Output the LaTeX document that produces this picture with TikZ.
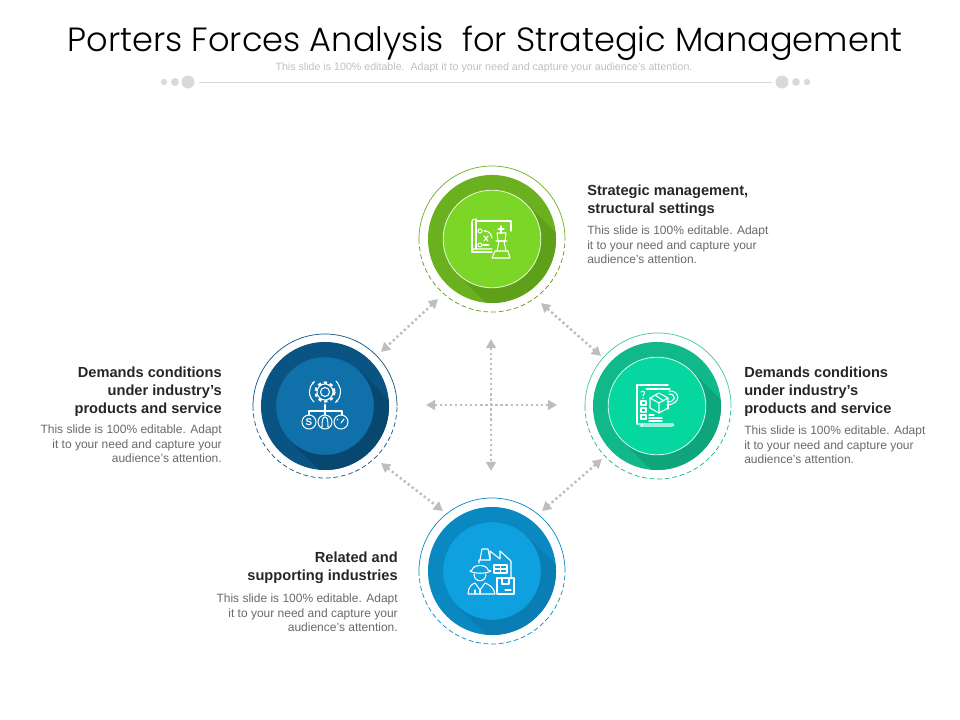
\documentclass[tikz,border=0pt]{standalone}
\usepackage{fontspec}
\setmainfont{Liberation Sans}
\newfontfamily\titlefont{Poppins Light}
\usetikzlibrary{arrows.meta}
\tikzset{
  disc/.style={circle,minimum size=3.2cm,inner sep=0pt},
  core/.style={circle,minimum size=2.44cm,inner sep=0pt},
  ringpart/.style={line width=0.5pt},
  ringdash/.style={line width=0.5pt,dash pattern=on 3.4pt off 2pt},
  link/.style={{Triangle[length=6.5pt,width=7pt]}-{Triangle[length=6.5pt,width=7pt]},draw=linkgrey,line width=1.7pt,dash pattern=on 1.7pt off 1.9pt},
  headtext/.style={inner sep=0pt,font=\fontsize{10.4}{12.8}\selectfont\bfseries,text=headgrey},
  bodytext/.style={inner sep=0pt,font=\fontsize{8.53}{10}\selectfont,text=bodygrey},
  icon/.style={draw=white,line width=0.75pt,line cap=round,line join=round},
  dot/.style={circle,fill=dotgrey,inner sep=0pt}
}
\begin{document}
\begin{tikzpicture}[x=0.025cm,y=-0.025cm]
  \definecolor{linkgrey}{RGB}{190,190,192}
  \definecolor{dotgrey}{RGB}{217,217,217}
  \definecolor{headgrey}{RGB}{38,38,38}
  \definecolor{bodygrey}{RGB}{105,105,105}
  \definecolor{topdark}{RGB}{107,176,30}
  \definecolor{topshade}{RGB}{94,160,26}
  \definecolor{toplight}{RGB}{124,214,40}
  \definecolor{leftdark}{RGB}{9,84,130}
  \definecolor{leftshade}{RGB}{8,72,112}
  \definecolor{leftlight}{RGB}{15,112,170}
  \definecolor{rightdark}{RGB}{16,184,138}
  \definecolor{rightshade}{RGB}{14,165,124}
  \definecolor{rightlight}{RGB}{6,214,160}
  \definecolor{botdark}{RGB}{9,136,194}
  \definecolor{botshade}{RGB}{9,125,180}
  \definecolor{botlight}{RGB}{15,160,224}
  \useasboundingbox (0,0) rectangle (960,720);
  % Title block
  \node[inner sep=0pt,font=\titlefont\fontsize{23.9}{28}\selectfont,text=black] (title) at (485,43) {Porters Forces Analysis\ \ for Strategic Management};
  \node[inner sep=0pt,font=\fontsize{7.58}{9}\selectfont,text=black!25] (subtitle) at (484,68) {This slide is 100\% editable.\ \ Adapt it to your need and capture your audience’s attention.};
  \node[dot,minimum size=4.5pt] (dotla) at (164,82) {};
  \node[dot,minimum size=5.6pt] (dotlb) at (175,82) {};
  \node[dot,minimum size=9.2pt] (dotlc) at (188,82) {};
  \node[dot,minimum size=9.2pt] (dotra) at (782,82) {};
  \node[dot,minimum size=5.6pt] (dotrb) at (796,82) {};
  \node[dot,minimum size=4.5pt] (dotrc) at (807,82) {};
  \draw[dotgrey,line width=0.6pt] (199,82) -- (772,82);
  % Top circle
  \node[disc,fill=topdark] (topdisc) at (492,239) {};
  \begin{scope}
    \clip (492,239) circle (64);
    \fill[topshade] (527,204) -- (627,304) -- (557,374) -- (457,274) -- cycle;
  \end{scope}
  \node[core,fill=toplight,draw=white!80!toplight,line width=0.6pt] (topcore) at (492,239) {};
  \draw[ringpart,draw=topdark] (419,239) arc (180:360:73);
  \draw[ringdash,draw=topdark!85!black] (419,239) arc (180:0:73);
  % Left circle
  \node[disc,fill=leftdark] (leftdisc) at (325,406) {};
  \begin{scope}
    \clip (325,406) circle (64);
    \fill[leftshade] (360,371) -- (460,471) -- (390,541) -- (290,441) -- cycle;
  \end{scope}
  \node[core,fill=leftlight] (leftcore) at (325,406) {};
  \draw[ringpart,draw=leftdark] (253,406) arc (180:360:72);
  \draw[ringdash,draw=leftdark] (253,406) arc (180:0:72);
  % Right circle
  \node[disc,fill=rightdark] (rightdisc) at (657,406) {};
  \begin{scope}
    \clip (657,406) circle (64);
    \fill[rightshade] (692,371) -- (792,471) -- (722,541) -- (622,441) -- cycle;
  \end{scope}
  \node[core,fill=rightlight,draw=white!80!rightlight,line width=0.6pt] (rightcore) at (657,406) {};
  \draw[ringpart,draw=rightdark!80!white] (585,406) arc (180:360:73);
  \draw[ringdash,draw=rightdark] (585,406) arc (180:0:73);
  % Bottom circle
  \node[disc,fill=botdark] (botdisc) at (492,571) {};
  \begin{scope}
    \clip (492,571) circle (64);
    \fill[botshade] (527,536) -- (627,636) -- (557,706) -- (457,606) -- cycle;
  \end{scope}
  \node[core,fill=botlight] (botcore) at (492,571) {};
  \draw[ringpart,draw=botdark] (419,571) arc (180:360:73);
  \draw[ringdash,draw=botdark] (419,571) arc (180:0:73);
  % Arrow ends
  \coordinate (tl) at (438,299);
  \coordinate (lt) at (381,352);
  \coordinate (tr) at (541,303);
  \coordinate (rt) at (601,356);
  \coordinate (lb) at (381,463);
  \coordinate (bl) at (443,511);
  \coordinate (rb) at (602,459);
  \coordinate (br) at (542,511);
  \coordinate (crossn) at (491,339);
  \coordinate (crosss) at (491,471);
  \coordinate (crossw) at (426,405);
  \coordinate (crosse) at (557,405);
  \draw[link] (tl) -- (lt);
  \draw[link] (tr) -- (rt);
  \draw[link] (lb) -- (bl);
  \draw[link] (rb) -- (br);
  \draw[link] (crossn) -- (crosss);
  \draw[link] (crossw) -- (crosse);
  % Map and king icon
  \draw[icon] (476,221) -- (511,221) -- (511,231);
  \draw[icon] (476,219) -- (476,249) (472,222) -- (472,252) -- (492,252);
  \draw[icon] (472,222) .. controls (472,219) and (475,218) .. (476,221);
  \draw[icon] (472,252) .. controls (472,249) and (475,248) .. (476,249) -- (492,249);
  \draw[icon] (480,231) circle (2) (480,245) circle (2);
  \draw[icon,-{Stealth[length=2.5pt]}] (483,245) -- (490,245);
  \draw[icon,-{Stealth[length=2.5pt]}] (492,238) .. controls (491,233) and (488,231) .. (483,231);
  \draw[icon] (484,236) -- (488,241) (488,236) -- (484,241);
  \draw[icon] (501,226) -- (501,233) (498,229) -- (504,229);
  \draw[icon] (497,233) -- (506,233) -- (505,241) -- (498,241) -- cycle;
  \draw[icon] (496,241) -- (507,241) (499,241) -- (497,251) (504,241) -- (506,251);
  \draw[icon] (495,251) -- (508,251) -- (510,258) -- (492,258) -- cycle;
  % Gear and gauges icon
  \draw[icon] (325,392) circle (4.5) (325,392) circle (8);
  \draw[icon,line width=1.6pt,line cap=butt,dash pattern=on 2.3pt off 2.1pt] (325,392) circle (9.5);
  \draw[icon,-{Stealth[length=2.5pt]}] (314,402) .. controls (308,396) and (308,388) .. (315,381);
  \draw[icon,-{Stealth[length=2.5pt]}] (336,381) .. controls (342,388) and (342,396) .. (335,403);
  \draw[icon,-{Stealth[length=2.5pt]}] (325,411) -- (325,403);
  \draw[icon] (309,415) -- (309,411) -- (342,411) -- (342,415);
  \draw[icon] (325,411) -- (325,415);
  \draw[icon] (309,422) circle (7) (325,422) circle (7) (341,422) circle (7);
  \node[inner sep=0pt,text=white,font=\fontsize{7}{7}\selectfont\bfseries] (gaugeS) at (309,422) {S};
  \draw[icon] (322,427) .. controls (322,419) and (323,417) .. (325,417) .. controls (327,417) and (328,419) .. (328,427);
  \draw[icon] (341,423) -- (344,419) (337,420) -- (338,419);
  % Page and parcel icon
  \draw[icon] (637,424) -- (637,385) -- (668,385) (668,405) -- (668,409);
  \draw[icon] (637,424) -- (642,424) (642,424) .. controls (642,426) and (641,426) .. (640,426) -- (672,426) .. controls (674,426) and (674,424) .. (673,424) -- (642,424);
  \draw[icon,-{Stealth[length=2.5pt]}] (670,389) -- (645,389);
  \draw[icon] (669,391) .. controls (680,390) and (682,404) .. (667,405) (669,394) .. controls (676,394) and (677,402) .. (667,402);
  \draw[icon] (650,398) -- (659,393) -- (668,398) -- (668,408) -- (659,413) -- (650,408) -- cycle;
  \draw[icon] (650,398) -- (659,403) -- (668,398) (659,403) -- (659,413) (655,395) -- (664,401);
  \draw[icon] (641,392) .. controls (642,390) and (646,391) .. (644,394) -- (643,396) (643,398) -- (643,398.5);
  \draw[icon] (641,401) rectangle (646,405) (641,408) rectangle (646,412) (641,415) rectangle (646,419);
  \draw[icon] (649,415) -- (654,415) (649,418) -- (662,418) (649,421) -- (662,421);
  % Factory and worker icon
  \draw[icon] (480,560) -- (482,549) -- (488,549) -- (490,560);
  \draw[icon] (479,563) -- (479,560) -- (490,560) -- (490,551) -- (500,559) -- (500,551) -- (511,561) -- (511,578);
  \draw[icon] (494,565) rectangle (507,573) (500.5,565) -- (500.5,573) (494,569) -- (507,569);
  \draw[icon] (470,571) -- (472,570) .. controls (473,564) and (487,564) .. (488,570) -- (491,571) .. controls (486,574) and (474,574) .. (470,571) -- cycle;
  \draw[icon] (474,574) .. controls (474,583) and (486,583) .. (486,574);
  \draw[icon] (468,594) .. controls (468,587) and (472,584) .. (475,583) -- (480,590) -- (485,583) .. controls (488,584) and (494,587) .. (495,594) -- cycle;
  \draw[icon] (480,590) -- (480,594) (475,590) -- (475,594);
  \draw[icon] (497,578) rectangle (514,594) (502,578) -- (502,584) -- (509,584) -- (509,578) (505,590) -- (511,590);
  % Top text
  \node[headtext,anchor=north west,align=left] (tophead) at (587,184.5) {Strategic management,\\structural settings};
  \node[bodytext,anchor=north west,align=left] (topbody) at (587,226) {This slide is 100\% editable. Adapt\\it to your need and capture your\\audience’s attention.};
  % Left text
  \node[headtext,anchor=north east,align=right] (lefthead) at (222,366.5) {Demands conditions\\under industry’s\\products and service};
  \node[bodytext,anchor=north east,align=right] (leftbody) at (222,425) {This slide is 100\% editable. Adapt\\it to your need and capture your\\audience’s attention.};
  % Right text
  \node[headtext,anchor=north west,align=left] (righthead) at (744,366.5) {Demands conditions\\under industry’s\\products and service};
  \node[bodytext,anchor=north west,align=left] (rightbody) at (744,426) {This slide is 100\% editable. Adapt\\it to your need and capture your\\audience’s attention.};
  % Bottom text
  \node[headtext,anchor=north east,align=right] (bothead) at (398,552) {Related and\\supporting industries};
  \node[bodytext,anchor=north east,align=right] (botbody) at (398,594) {This slide is 100\% editable. Adapt\\it to your need and capture your\\audience’s attention.};
\end{tikzpicture}
\end{document}
